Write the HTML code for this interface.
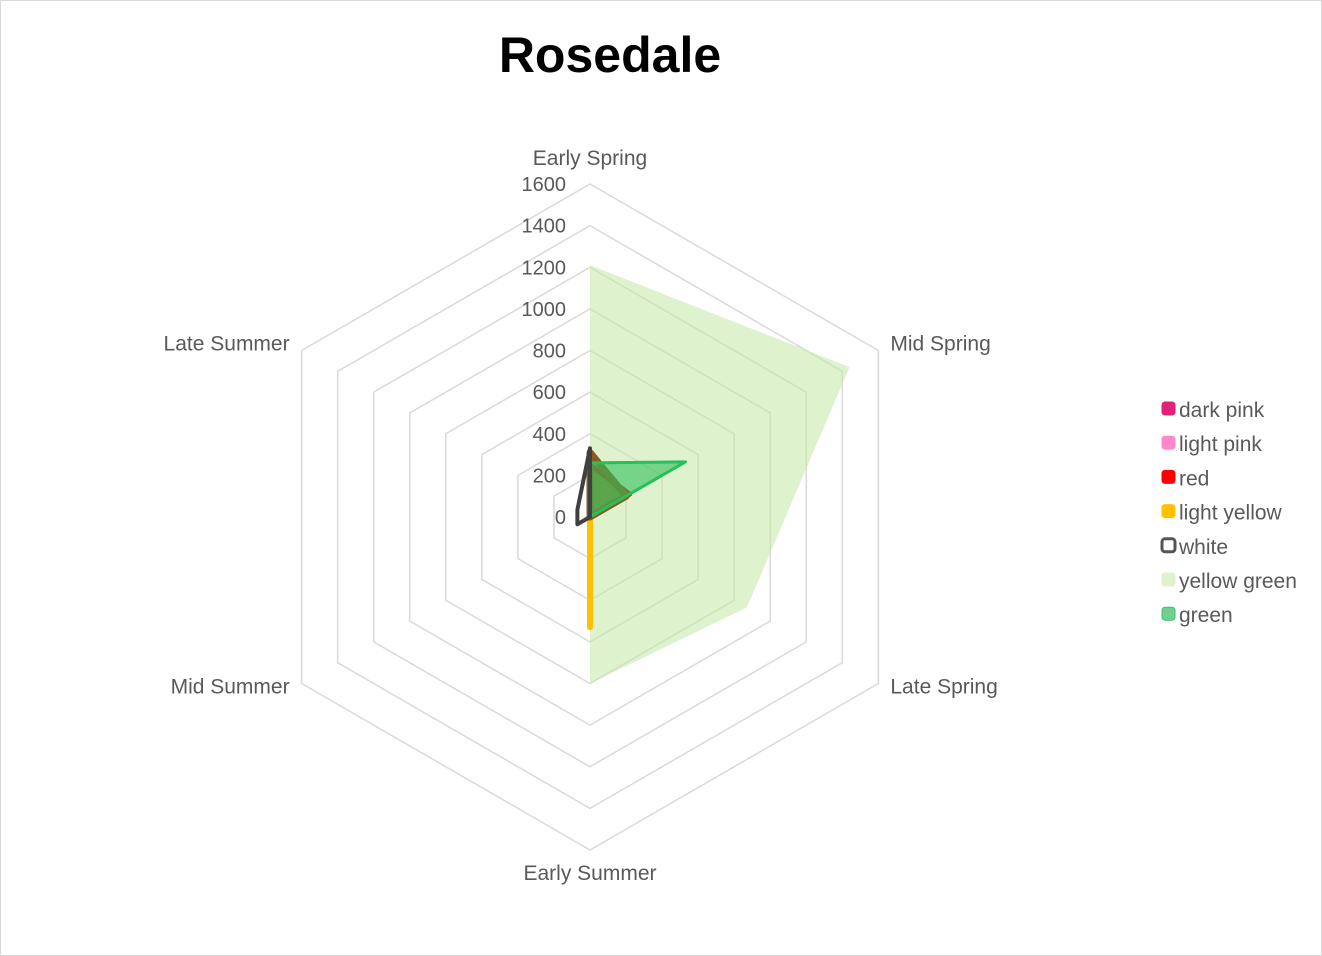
<!DOCTYPE html>
<html><head><meta charset="utf-8"><style>
body{margin:0;background:#fff}
#wrap{position:relative;width:1320px;height:954px;border:1px solid #d9d9d9;overflow:hidden}
svg text{font-family:"Liberation Sans",sans-serif}
</style></head><body>
<div id="wrap">
<svg id="chart" width="1320" height="954"></svg>
</div>
<script>
const categories=["Early Spring","Mid Spring","Late Spring","Early Summer","Mid Summer","Late Summer"];
const ticks=[0,200,400,600,800,1000,1200,1400,1600];
const seriesNames=["yellow green","green","light yellow","red","dark pink","light pink","white"];
const yellowGreen=[1210,1440,870,800,0,0];
const green=[260,530,0,0,0,0];
const lightYellow=[20,0,0,530,0,0];
const red=[250,220,0,0,0,0];
const darkPink=[310,200,0,0,0,0];
const lightPink=[0,0,0,0,0,0];
const white=[330,0,0,0,70,70];
const legendNames=["dark pink","light pink","red","light yellow","white","yellow green","green"];

const NS="http://www.w3.org/2000/svg";
const svg=document.getElementById('chart');
const cx=589,cy=516,R=333,maxV=1600;
function ang(i){return -Math.PI/2+i*Math.PI/3;}
function px(i,v){return cx+Math.cos(ang(i))*v/maxV*R;}
function py(i,v){return cy+Math.sin(ang(i))*v/maxV*R;}
function mk(t,a){const e=document.createElementNS(NS,t);for(const k in a)e.setAttribute(k,a[k]);svg.appendChild(e);return e;}

const title=mk('text',{x:609,y:71,'text-anchor':'middle','font-size':50,'font-weight':'bold',fill:'#000'});
title.textContent="Rosedale";



ticks.forEach(t=>{if(t===0)return;
  const pts=categories.map((c,i)=>px(i,t)+','+py(i,t)).join(' ');
  const g=mk('polygon',{points:pts,fill:'none',stroke:'#d9d9d9','stroke-width':1.5});
  
  
});
ticks.forEach(t=>{
  const l=mk('text',{x:565,y:py(0,t)+7,'text-anchor':'end','font-size':20,fill:'#595959'});
  l.textContent=t;
  
  
});
const lp=[[0,-19,'middle'],[12,0,'start'],[12,10,'start'],[0,30,'middle'],[-12,10,'end'],[-12,0,'end']];
categories.forEach((c,i)=>{
  const l=mk('text',{x:px(i,maxV)+lp[i][0],y:py(i,maxV)+lp[i][1],'text-anchor':lp[i][2],'font-size':21,fill:'#595959'});
  l.textContent=c;
  
  
});
function poly(vals,fill,fo,stroke,sw,name){
  const pts=vals.map((v,i)=>px(i,v)+','+py(i,v)).join(' ');
  const p=mk('polygon',{points:pts,fill:fill,'fill-opacity':fo,stroke:stroke,'stroke-width':sw,'stroke-linejoin':'round'});
  
  
}
poly(yellowGreen,'#c5e8a6',0.55,'none',0,'series-yellow-green');
poly(lightPink,'none',0,'#ff88cc',3,'series-light-pink');
poly(lightYellow,'none',0,'#ffc000',6,'series-light-yellow');
poly(red,'#8a6a00',0.6,'#ff0000',5,'series-red');
poly(darkPink,'#8a5a20',0.5,'#8a5a20',7,'series-dark-pink');
poly(green,'#2ebf5a',0.6,'#29bf5a',3,'series-green');
poly(white,'none',0,'#404040',4,'series-white');

const sw={"dark pink":['#e0227a','#e0227a'],"light pink":['#ff88cc','#ff88cc'],"red":['#ff0000','#ff0000'],"light yellow":['#ffc000','#ffc000'],"white":['#fff','#555'],"yellow green":['#dff2ce','#dff2ce'],"green":['#6fd08f','#3cbf6a']};
legendNames.forEach((n,k)=>{
  const y=408+k*34.2;
  const r=mk('rect',{x:1161,y:y-7,width:13,height:13,rx:3,fill:sw[n][0],stroke:sw[n][1],'stroke-width':n==='white'?3:1});
  
  
  const t=mk('text',{x:1178,y:y+8,'font-size':21,fill:'#595959'});
  t.textContent=n;
  
  
});
</script>
</body></html>
